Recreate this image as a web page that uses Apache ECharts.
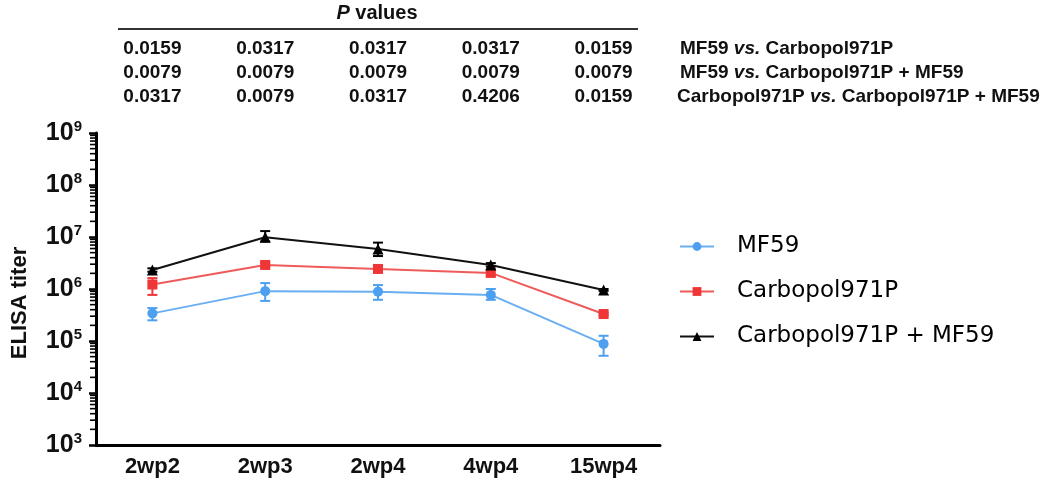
<!DOCTYPE html>
<html><head><meta charset="utf-8">
<script src="https://cdn.jsdelivr.net/npm/echarts@6/dist/echarts.min.js"></script>
<style>html,body{margin:0;padding:0;background:#fff}#main{width:1050px;height:488px}</style>
</head><body><div id="main"></div>
<script>
// ---- data ----
const categories = ['2wp2', '2wp3', '2wp4', '4wp4', '15wp4'];
const seriesNames = ['MF59', 'Carbopol971P', 'Carbopol971P + MF59'];
const mf59 = [3.4e5, 9.1e5, 8.9e5, 7.7e5, 8.8e4];
const mf59Low = [2.5e5, 5.9e5, 6.2e5, 6.2e5, 5.2e4];
const mf59High = [4.3e5, 1.3e6, 1.19e6, 1.0e6, 1.26e5];
const carb = [1.22e6, 2.9e6, 2.43e6, 2.04e6, 3.3e5];
const carbLow = [7.7e5, 2.65e6, 2.15e6, 1.8e6, 3.1e5];
const carbHigh = [1.62e6, 3.15e6, 2.75e6, 2.3e6, 3.5e5];
const combo = [2.32e6, 9.9e6, 5.9e6, 2.9e6, 9.6e5];
const comboLow = [2.15e6, 8.2e6, 4.3e6, 2.7e6, 9.2e5];
const comboHigh = [2.5e6, 1.3e7, 7.8e6, 3.15e6, 1.0e6];
const minorMultipliers = [2, 3, 4, 5, 6, 7, 8, 9];
const minorDecades = [1e3, 1e4, 1e5, 1e6, 1e7, 1e8];
const pRow1 = ['0.0159', '0.0317', '0.0317', '0.0317', '0.0159'];
const pRow2 = ['0.0079', '0.0079', '0.0079', '0.0079', '0.0079'];
const pRow3 = ['0.0317', '0.0079', '0.0317', '0.4206', '0.0159'];
const comparisons = [
  ['MF59', 'vs.', 'Carbopol971P'],
  ['MF59', 'vs.', 'Carbopol971P + MF59'],
  ['Carbopol971P', 'vs.', 'Carbopol971P + MF59']
];
const yName = 'ELISA titer';

// ---- styles ----
const colors = ['#4d9ff0', '#ef3535', '#000000'];
const lineColors = ['#6aaef2', '#ef5a5a', '#111111'];
const FONT = 'Liberation Sans, Arial, sans-serif';

function errData(low, high) {
  return categories.map((c, i) => [i, low[i], high[i]]);
}
function errSeries(low, high, color) {
  return {
    type: 'custom', silent: true, z: 1,
    data: errData(low, high),
    renderItem: function (params, api) {
      const lo = api.coord([api.value(0), api.value(1)]);
      const hi = api.coord([api.value(0), api.value(2)]);
      const w = 5;
      const st = { stroke: color, lineWidth: 2 };
      return { type: 'group', children: [
        { type: 'line', shape: { x1: lo[0], y1: lo[1], x2: hi[0], y2: hi[1] }, style: st },
        { type: 'line', shape: { x1: lo[0] - w, y1: lo[1], x2: lo[0] + w, y2: lo[1] }, style: st },
        { type: 'line', shape: { x1: hi[0] - w, y1: hi[1], x2: hi[0] + w, y2: hi[1] }, style: st }
      ]};
    }
  };
}
function lineSeries(name, data, idx, symbol, size) {
  return {
    name: name, type: 'line', data: data, symbol: symbol, symbolSize: size, z: 3,
    itemStyle: { color: colors[idx] },
    lineStyle: { color: lineColors[idx], width: 2 },
    emphasis: { disabled: true }
  };
}

const chart = echarts.init(document.getElementById('main'));
const option = {
  animation: false,
  grid: { left: 96, right: 390, top: 133, bottom: 43 },
  legend: {
    data: seriesNames, orient: 'vertical', left: 674, top: 230,
    itemWidth: 34, itemHeight: 11, itemGap: 22,
    textStyle: { fontSize: 23, fontFamily: 'DejaVu Sans, sans-serif', color: '#000', padding: [0, 0, 0, 18] }
  },
  xAxis: {
    type: 'category', data: categories, boundaryGap: true,
    axisLine: { lineStyle: { color: '#000', width: 3 } },
    axisTick: { alignWithLabel: true, length: 7, lineStyle: { color: '#000', width: 2.5 } },
    axisLabel: { fontSize: 22, fontWeight: 'bold', fontFamily: FONT, color: '#111', margin: 11 }
  },
  yAxis: {
    type: 'log', logBase: 10, min: 1e3, max: 1e9, interval: 1,
    splitLine: { show: false },
    axisLine: { show: true, lineStyle: { color: '#000', width: 3 } },
    axisTick: { show: true, length: 7, lineStyle: { color: '#000', width: 2.5 } },
    axisLabel: {
      margin: 14, color: '#111',
      formatter: function (v) { return '{b|10}{s|' + Math.round(Math.log10(v)) + '}'; },
      rich: {
        b: { fontSize: 25, fontWeight: 'bold', fontFamily: FONT, color: '#111', lineHeight: 28 },
        s: { fontSize: 15, fontWeight: 'bold', fontFamily: FONT, color: '#111', verticalAlign: 'top', lineHeight: 12 }
      }
    }
  },
  series: [
    errSeries(mf59Low, mf59High, colors[0]),
    errSeries(carbLow, carbHigh, colors[1]),
    errSeries(comboLow, comboHigh, colors[2]),
    lineSeries(seriesNames[0], mf59, 0, 'circle', 10),
    lineSeries(seriesNames[1], carb, 1, 'rect', 10),
    lineSeries(seriesNames[2], combo, 2, 'triangle', 11)
  ]
};
chart.setOption(option);

const g = [];
// minor log ticks on the y axis, placed via the axis scale
const gridRect = chart.getModel().getComponent('grid', 0).coordinateSystem.getRect();
const axisX = gridRect.x;
minorDecades.forEach(d => minorMultipliers.forEach(m => {
  const yv = chart.convertToPixel({ yAxisIndex: 0 }, d * m);
  const y = Array.isArray(yv) ? yv[1] : yv;
  if (isFinite(y)) {
    g.push({ type: 'line', silent: true, z: 10, shape: { x1: axisX - 6, y1: y, x2: axisX, y2: y }, style: { stroke: '#000', lineWidth: 1.6 } });
  }
}));

// P-value table positioned above each category column
const xs = categories.map(c => chart.convertToPixel({ xAxisIndex: 0 }, c));
const rowY = [49, 73, 97];
const rows = [pRow1, pRow2, pRow3];
const tFont = 'bold 19px ' + FONT;
g.push({ type: 'text', x: 377, y: 13, style: {
  text: '{i|P}{n| values}', align: 'center', verticalAlign: 'middle',
  rich: { i: { font: 'italic bold 20px ' + FONT, fill: '#111' }, n: { font: 'bold 20px ' + FONT, fill: '#111' } } } });
g.push({ type: 'line', shape: { x1: 118, y1: 29, x2: 638, y2: 29 }, style: { stroke: '#333', lineWidth: 2 } });
rows.forEach((r, ri) => r.forEach((t, ci) => {
  g.push({ type: 'text', x: xs[ci], y: rowY[ri], style: { text: t, align: 'center', verticalAlign: 'middle', font: tFont, fill: '#111' } });
}));
comparisons.forEach((c, ri) => {
  g.push({ type: 'text', x: ri === 2 ? 677 : 680, y: rowY[ri], style: {
    text: '{n|' + c[0] + ' }{i|' + c[1] + '}{n| ' + c[2] + '}', verticalAlign: 'middle', align: 'left',
    rich: { n: { font: tFont, fill: '#111' }, i: { font: 'italic bold 19px ' + FONT, fill: '#111' } } } });
});
g.push({ type: 'text', x: 20, y: 303, rotation: Math.PI / 2, style: {
  text: yName, align: 'center', verticalAlign: 'middle', font: 'bold 22px ' + FONT, fill: '#111' } });
chart.setOption({ graphic: g });
</script></body></html>
